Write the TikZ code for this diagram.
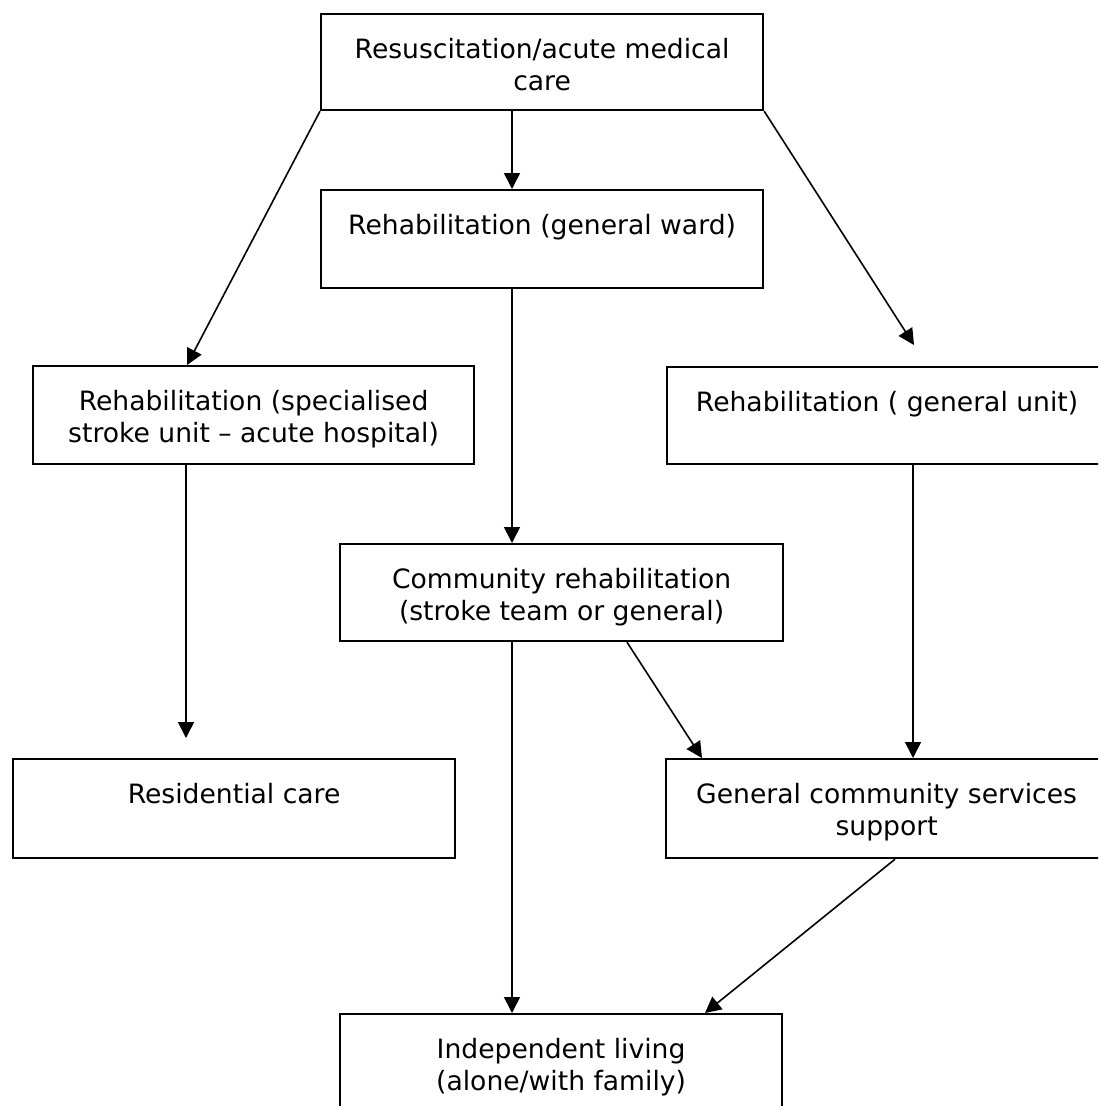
\documentclass[tikz,border=0pt]{standalone}
\usepackage{fontspec}
\setmainfont{DejaVu Sans}
\usetikzlibrary{arrows.meta}
\tikzset{
  box/.style={draw, line width=2.2pt, rectangle, anchor=north west, inner sep=0pt},
  boxtext/.style={anchor=north, inner sep=0pt, align=center, font=\fontsize{26.6}{32}\selectfont},
  conn/.style={line width=1.6pt, -{Triangle[length=16pt,width=16pt]}}
}
\begin{document}
\begin{tikzpicture}[x=1pt,y=1pt]
\useasboundingbox (0,0) rectangle (1098,-1106);
\clip (0,0) rectangle (1098,-1106);
\fill[white] (0,0) rectangle (1098,-1106);
% boxes
\node[box, minimum width=442pt, minimum height=96pt] (b1) at (320,-13) {};
\node[box, minimum width=442pt, minimum height=98pt] (b2) at (320,-189) {};
\node[box, minimum width=441pt, minimum height=98pt] (b3) at (32,-365) {};
\node[box, minimum width=440pt, minimum height=97pt] (b4) at (666,-366) {};
\node[box, minimum width=443pt, minimum height=97pt] (b5) at (339,-543) {};
\node[box, minimum width=442pt, minimum height=99pt] (b6) at (12,-758) {};
\node[box, minimum width=441pt, minimum height=99pt] (b7) at (665,-758) {};
\node[box, minimum width=442pt, minimum height=100pt] (b8) at (339,-1013) {};
% texts
\node[boxtext] (t1) at ([yshift=-22.6pt]b1.north) {\strut Resuscitation/acute medical\\care};
\node[boxtext] (t2) at ([yshift=-22.6pt]b2.north) {\strut Rehabilitation (general ward)};
\node[boxtext] (t3) at ([yshift=-22.6pt]b3.north) {\strut Rehabilitation (specialised\\stroke unit -- acute hospital)};
\node[boxtext] (t4) at ([yshift=-22.6pt]b4.north) {\strut Rehabilitation ( general unit)};
\node[boxtext] (t5) at ([yshift=-22.6pt]b5.north) {\strut Community rehabilitation\\(stroke team or general)};
\node[boxtext] (t6) at ([yshift=-22.6pt]b6.north) {\strut Residential care};
\node[boxtext] (t7) at ([yshift=-22.6pt]b7.north) {\strut General community services\\support};
\node[boxtext] (t8) at ([yshift=-22.6pt]b8.north) {\strut Independent living\\(alone/with family)};
% free ends
\coordinate (e3) at ([xshift=248pt,yshift=21pt]b4.north west);
\coordinate (e5) at ([xshift=174pt,yshift=20pt]b6.north west);
% connectors
\draw[conn] ([xshift=192pt]b1.south west) -- ([xshift=192pt]b2.north west);
\draw[conn] (b1.south west) -- ([xshift=155pt]b3.north west);
\draw[conn] (b1.south east) -- (e3);
\draw[conn] ([xshift=192pt]b2.south west) -- ([xshift=173pt]b5.north west);
\draw[conn] ([xshift=154pt]b3.south west) -- (e5);
\draw[conn] ([xshift=247pt]b4.south west) -- ([xshift=248pt]b7.north west);
\draw[conn] ([xshift=173pt]b5.south west) -- ([xshift=173pt]b8.north west);
\draw[conn] ([xshift=288pt]b5.south west) -- ([xshift=37pt]b7.north west);
\draw[conn] ([xshift=230pt]b7.south west) -- ([xshift=366pt]b8.north west);
\end{tikzpicture}
\end{document}
